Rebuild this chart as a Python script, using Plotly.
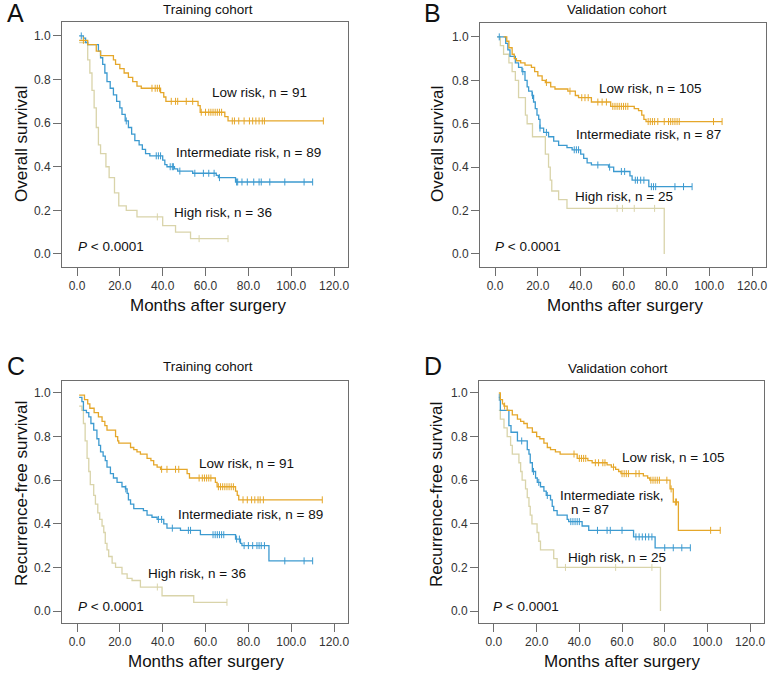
import bisect
import plotly.graph_objects as go

W, H = 770, 674

# ---------------- Panel A: Training cohort, overall survival ----------------
A_low_t = [1, 5, 9, 11, 17, 18, 20, 22, 24, 26, 28, 30, 39, 40.5, 41.5, 56.5, 57.5, 69, 70.5]
A_low_s = [0.98, 0.96, 0.93, 0.91, 0.89, 0.87, 0.85, 0.83, 0.81, 0.79, 0.77, 0.76, 0.74, 0.72, 0.70, 0.68, 0.65, 0.63, 0.61]
A_low_c = [3, 35, 36.5, 37.5, 38.5, 44, 46, 47, 51, 54, 58, 60, 61.5, 62.5, 63.5, 64.5, 65.5, 66.5, 67.5,
           72.5, 73.5, 75.5, 78, 80.5, 82, 83.5, 85, 86.5, 87.5, 115]
A_int_t = [1, 3, 4, 5, 10, 11, 12, 13, 14, 15.5, 17, 18.5, 20, 21, 22.5, 24, 25.5, 27, 29, 30.5, 32, 34,
           40, 41, 42, 45.5, 47, 54, 65, 66, 74]
A_int_s = [1.0, 0.99, 0.97, 0.96, 0.93, 0.90, 0.87, 0.83, 0.79, 0.76, 0.73, 0.70, 0.67, 0.64, 0.61, 0.58,
           0.55, 0.52, 0.50, 0.48, 0.46, 0.45, 0.43, 0.41, 0.40, 0.39, 0.38, 0.37, 0.36, 0.35, 0.33]
A_int_c = [2, 23, 37, 38, 39, 43.5, 44.5, 45, 48, 55, 59, 61.5, 64, 66.5, 74.5, 75, 77, 79.5, 82.5, 85, 86,
           90, 97, 106, 110]
A_high_t = [1, 5, 6, 7, 8, 9, 10, 11, 13.5, 15, 17.5, 19.5, 23, 28, 40, 46, 53]
A_high_s = [0.97, 0.89, 0.83, 0.75, 0.67, 0.58, 0.50, 0.46, 0.40, 0.35, 0.28, 0.22, 0.20, 0.17, 0.13, 0.10, 0.07]
A_high_c = [37.5, 57, 70.5]

# ---------------- Panel B: Validation cohort, overall survival ----------------
B_low_t = [4, 5.5, 6.5, 8, 9, 10, 12, 14, 17, 18.5, 20, 22, 23.5, 26, 28, 34, 37.5, 39, 45, 54, 65, 67,
           68.5, 69.5, 70.5]
B_low_s = [1.0, 0.98, 0.95, 0.92, 0.90, 0.89, 0.88, 0.87, 0.86, 0.84, 0.82, 0.80, 0.79, 0.77, 0.76, 0.75,
           0.73, 0.72, 0.70, 0.68, 0.67, 0.66, 0.64, 0.62, 0.61]
B_low_c = [24, 35, 40.5, 42, 43.5, 48, 50, 52, 55, 56, 57, 58, 59, 60, 61, 62, 71.5, 72.5, 73.5, 74.5, 76,
           79, 81, 82, 83, 84, 85, 86, 102, 106]
B_int_t = [1, 5, 6, 7, 9.5, 11, 12.6, 14, 15, 15.7, 17.3, 18, 18.8, 19.6, 20.4, 21, 22.7, 25, 27.4, 29.7,
           33.6, 36, 40, 41.4, 43, 45, 53, 55.4, 63, 64, 71.8]
B_int_s = [1.0, 0.97, 0.94, 0.91, 0.88, 0.86, 0.84, 0.80, 0.77, 0.75, 0.73, 0.70, 0.67, 0.64, 0.62, 0.58,
           0.56, 0.54, 0.52, 0.50, 0.49, 0.48, 0.46, 0.44, 0.42, 0.41, 0.40, 0.38, 0.36, 0.34, 0.31]
B_int_c = [2, 13, 17.5, 21, 24, 37, 38, 39, 48, 53.5, 59, 60.5, 65.5, 66.5, 68, 69.5, 73, 74, 75, 84, 88, 92]
B_high_t = [1, 2.5, 4, 6.5, 8, 9.5, 11, 14.2, 15, 17.5, 23.5, 25, 25.8, 26.5, 29.7, 33.6, 79]
B_high_s = [1.0, 0.96, 0.92, 0.88, 0.84, 0.80, 0.72, 0.64, 0.60, 0.54, 0.46, 0.40, 0.34, 0.29, 0.25, 0.21, 0.0]
B_high_c = [57, 59.5, 65, 74.5]

# ---------------- Panel C: Training cohort, recurrence-free survival ----------------
C_low_t = [1, 3.5, 5, 6, 8, 10, 11.7, 13, 14, 18, 19, 19.5, 25, 26.5, 28, 29.6, 32.7, 34.5, 35.8, 37.4, 39,
           51.4, 52.5, 64.6, 65.4, 74, 74.8, 75.5]
C_low_s = [0.99, 0.97, 0.95, 0.93, 0.91, 0.89, 0.87, 0.85, 0.83, 0.80, 0.78, 0.77, 0.75, 0.74, 0.73, 0.72,
           0.70, 0.69, 0.67, 0.66, 0.65, 0.63, 0.61, 0.59, 0.57, 0.55, 0.53, 0.51]
C_low_c = [39.5, 42, 46, 47.5, 57, 58.5, 59.5, 60.5, 61.5, 62.5, 66, 67, 68, 69, 70, 71, 72, 73, 77.5, 79.5,
           81.5, 83, 84.5, 85.5, 87, 114.5]
C_int_t = [1, 2.3, 3, 4.4, 5.5, 6.5, 7.8, 9.3, 10.2, 11, 12.2, 13.2, 14, 15.6, 17, 18.7, 21, 22.6, 23.4, 24,
           25, 26.5, 31, 32.7, 35, 37.4, 40.5, 42, 48.3, 57.6, 74, 76.3, 77, 89.6]
C_int_s = [0.98, 0.96, 0.92, 0.91, 0.89, 0.86, 0.83, 0.79, 0.76, 0.73, 0.71, 0.69, 0.66, 0.63, 0.61, 0.59,
           0.57, 0.56, 0.54, 0.51, 0.49, 0.47, 0.46, 0.44, 0.43, 0.42, 0.40, 0.38, 0.37, 0.35, 0.33, 0.31,
           0.30, 0.23]
C_int_c = [22.8, 38, 39.5, 44.5, 52, 53, 63.5, 64.5, 65.5, 66.5, 67.5, 68.5, 74.5, 75.8, 78, 80, 82, 84, 85,
           86, 87.5, 97, 106, 110]
C_high_t = [1, 2.3, 3, 3.8, 4.7, 5.5, 6.2, 7.8, 8.6, 9.7, 10.6, 11.7, 12.5, 13.2, 14, 14.8, 16.4, 18, 21,
            23.4, 25.7, 29.6, 39.7, 54.5]
C_high_s = [0.94, 0.92, 0.86, 0.78, 0.70, 0.64, 0.58, 0.53, 0.49, 0.45, 0.42, 0.39, 0.36, 0.31, 0.28, 0.25,
            0.22, 0.20, 0.17, 0.15, 0.14, 0.11, 0.07, 0.04]
C_high_c = [37.5, 70]

# ---------------- Panel D: Validation cohort, recurrence-free survival ----------------
D_low_t = [2.3, 3, 4, 4.7, 6.2, 8.6, 11, 12.5, 14, 15.6, 18, 20, 21.5, 23.4, 25, 26.5, 28.8, 31, 39, 44, 46,
           53, 55, 57, 58.4, 59.5, 70, 72, 73, 82.5, 84, 86.4]
D_low_s = [1.0, 0.97, 0.95, 0.94, 0.92, 0.90, 0.88, 0.87, 0.86, 0.84, 0.82, 0.80, 0.79, 0.77, 0.75, 0.74,
           0.73, 0.72, 0.70, 0.69, 0.68, 0.67, 0.66, 0.65, 0.64, 0.63, 0.62, 0.61, 0.60, 0.56, 0.50, 0.37]
D_low_c = [5, 37.5, 40, 41, 42, 43, 47.5, 49, 51, 52, 56, 60, 61, 62, 63, 66.5, 68, 73.5, 74.5, 75.5, 76.5,
           77.5, 81, 83, 85, 85.5, 101.5, 106]
D_int_t = [2.3, 3, 7, 8, 11, 15.6, 16.4, 17, 18, 19.5, 20.3, 21.8, 23.4, 24.5, 26.5, 27.3, 28, 29.6, 34.3, 35,
           41.3, 44.4, 65.4, 75.5]
D_int_s = [0.98, 0.92, 0.85, 0.82, 0.78, 0.74, 0.72, 0.68, 0.64, 0.61, 0.59, 0.57, 0.55, 0.53, 0.51, 0.48,
           0.46, 0.44, 0.42, 0.41, 0.39, 0.37, 0.34, 0.29]
D_int_c = [2.5, 13, 18.5, 21, 25, 36, 37, 38, 39, 40, 48.5, 53, 54.5, 60, 66.5, 68, 69.5, 71, 72.5, 74, 80,
           84, 88, 92]
D_high_t = [2.3, 3, 4.7, 6.2, 7.8, 8.6, 11.7, 12.5, 13.2, 14.8, 15.6, 16.4, 17, 17.8, 20.2, 21, 21.8, 28,
            29.6, 78]
D_high_s = [0.92, 0.88, 0.84, 0.80, 0.76, 0.72, 0.68, 0.64, 0.60, 0.56, 0.52, 0.48, 0.44, 0.40, 0.36, 0.32,
            0.28, 0.24, 0.20, 0.0]
D_high_c = [33.5, 57, 74]

x_tickvals = [0, 20, 40, 60, 80, 100, 120]
x_ticktext = ["0.0", "20.0", "40.0", "60.0", "80.0", "100.0", "120.0"]
y_tickvals = [0, 0.2, 0.4, 0.6, 0.8, 1.0]
y_ticktext = ["0.0", "0.2", "0.4", "0.6", "0.8", "1.0"]

COL_LOW = "#E5A72A"
COL_INT = "#3C9AD0"
COL_HIGH = "#D9D4AA"
FONT = "Liberation Sans, Arial, sans-serif"

panels = [
    dict(letter="A", box=(62, 348, 22, 267), yr=(-0.06, 1.064), title="Training cohort", tx=208, ty=10,
         ytitle="Overall survival", ytx=21, yty=144, xtx=208, xty=305, lx=5, ly=13,
         curves=[(A_high_t, A_high_s, A_high_c, COL_HIGH), (A_int_t, A_int_s, A_int_c, COL_INT),
                 (A_low_t, A_low_s, A_low_c, COL_LOW)],
         labels=[("Low risk, n = 91", 210, 93), ("Intermediate risk, n = 89", 174, 152),
                 ("High risk, n = 36", 172, 212)], px=76, py=247),
    dict(letter="B", box=(480, 766, 23, 267), yr=(-0.06, 1.064), title="Validation cohort", tx=617, ty=10,
         ytitle="Overall survival", ytx=437, yty=144, xtx=625, xty=305, lx=422, ly=13,
         curves=[(B_high_t, B_high_s, B_high_c, COL_HIGH), (B_int_t, B_int_s, B_int_c, COL_INT),
                 (B_low_t, B_low_s, B_low_c, COL_LOW)],
         labels=[("Low risk, n = 105", 597, 88), ("Intermediate risk, n = 87", 574, 135),
                 ("High risk, n = 25", 573, 197)], px=493, py=247),
    dict(letter="C", box=(62, 348, 381, 623), yr=(-0.055, 1.055), title="Training cohort", tx=208, ty=366,
         ytitle="Recurrence-free survival", ytx=21, yty=494, xtx=206, xty=661, lx=5, ly=366,
         curves=[(C_high_t, C_high_s, C_high_c, COL_HIGH), (C_int_t, C_int_s, C_int_c, COL_INT),
                 (C_low_t, C_low_s, C_low_c, COL_LOW)],
         labels=[("Low risk, n = 91", 197, 463), ("Intermediate risk, n = 89", 176, 514),
                 ("High risk, n = 36", 146, 573)], px=76, py=606),
    dict(letter="D", box=(479, 764, 381, 623), yr=(-0.055, 1.055), title="Validation cohort", tx=618, ty=368,
         ytitle="Recurrence-free survival", ytx=436, yty=495, xtx=622, xty=661, lx=422, ly=366,
         curves=[(D_high_t, D_high_s, D_high_c, COL_HIGH), (D_int_t, D_int_s, D_int_c, COL_INT),
                 (D_low_t, D_low_s, D_low_c, COL_LOW)],
         labels=[("Low risk, n = 105", 620, 457), ("Intermediate risk,", 558, 495), ("n = 87", 569, 509),
                 ("High risk, n = 25", 566, 557)], px=491, py=606),
]


def surv_at(t_list, s_list, t):
    i = bisect.bisect_right(t_list, t) - 1
    return s_list[max(i, 0)]


fig = go.Figure()
layout = dict(width=W, height=H, margin=dict(l=0, r=0, t=0, b=0), paper_bgcolor="white",
              plot_bgcolor="white", showlegend=False, annotations=[])

for k, p in enumerate(panels):
    idx = "" if k == 0 else str(k + 1)
    xa, ya = "x" + idx, "y" + idx
    x0, x1, y0, y1 = p["box"]
    for t, s, c, col in p["curves"]:
        xs = list(t)
        ys = list(s)
        if c and max(c) > xs[-1]:
            xs.append(max(c))
            ys.append(ys[-1])
        fig.add_trace(go.Scatter(x=xs, y=ys, mode="lines", line=dict(color=col, width=1.3, shape="hv"),
                                 xaxis=xa, yaxis=ya, hoverinfo="skip"))
        fig.add_trace(go.Scatter(x=c, y=[surv_at(t, s, ci) for ci in c], mode="markers",
                                 marker=dict(symbol="line-ns", size=5, color=col,
                                             line=dict(color=col, width=1)),
                                 xaxis=xa, yaxis=ya, hoverinfo="skip"))
    axis_common = dict(showline=True, mirror=True, linecolor="#6e6e6e", linewidth=1, ticks="outside",
                       ticklen=8, tickcolor="#6e6e6e", tickwidth=1, showgrid=False, zeroline=False,
                       tickfont=dict(family=FONT, size=12, color="#333333"))
    layout["xaxis" + idx] = dict(domain=[x0 / W, x1 / W], range=[-7, 126.5], anchor=ya,
                                 tickvals=x_tickvals, ticktext=x_ticktext, **axis_common)
    layout["yaxis" + idx] = dict(domain=[1 - y1 / H, 1 - y0 / H], range=list(p["yr"]), anchor=xa,
                                 tickvals=y_tickvals, ticktext=y_ticktext, **axis_common)
    ann = layout["annotations"]
    ann.append(dict(text=p["letter"], x=p["lx"] / W, y=1 - p["ly"] / H, xref="paper", yref="paper",
                    xanchor="left", yanchor="middle", showarrow=False,
                    font=dict(family=FONT, size=25, color="#111111")))
    ann.append(dict(text=p["title"], x=p["tx"] / W, y=1 - p["ty"] / H, xref="paper", yref="paper",
                    xanchor="center", yanchor="middle", showarrow=False,
                    font=dict(family=FONT, size=13.5, color="#111111")))
    ann.append(dict(text=p["ytitle"], x=p["ytx"] / W, y=1 - p["yty"] / H, xref="paper", yref="paper",
                    xanchor="center", yanchor="middle", textangle=-90, showarrow=False,
                    font=dict(family=FONT, size=17, color="#111111")))
    ann.append(dict(text="Months after surgery", x=p["xtx"] / W, y=1 - p["xty"] / H, xref="paper",
                    yref="paper", xanchor="center", yanchor="middle", showarrow=False,
                    font=dict(family=FONT, size=17, color="#111111")))
    for txt, lx, ly in p["labels"]:
        ann.append(dict(text=txt, x=lx / W, y=1 - ly / H, xref="paper", yref="paper", xanchor="left",
                        yanchor="middle", showarrow=False, font=dict(family=FONT, size=13.5, color="#111111")))
    ann.append(dict(text="<i>P</i> < 0.0001", x=p["px"] / W, y=1 - p["py"] / H, xref="paper", yref="paper",
                    xanchor="left", yanchor="middle", showarrow=False,
                    font=dict(family=FONT, size=13.5, color="#111111")))

fig.update_layout(**layout)
fig.write_html("out.html", config={"displayModeBar": False},
               post_script="document.body.style.margin='0';document.body.style.overflow='hidden';")
